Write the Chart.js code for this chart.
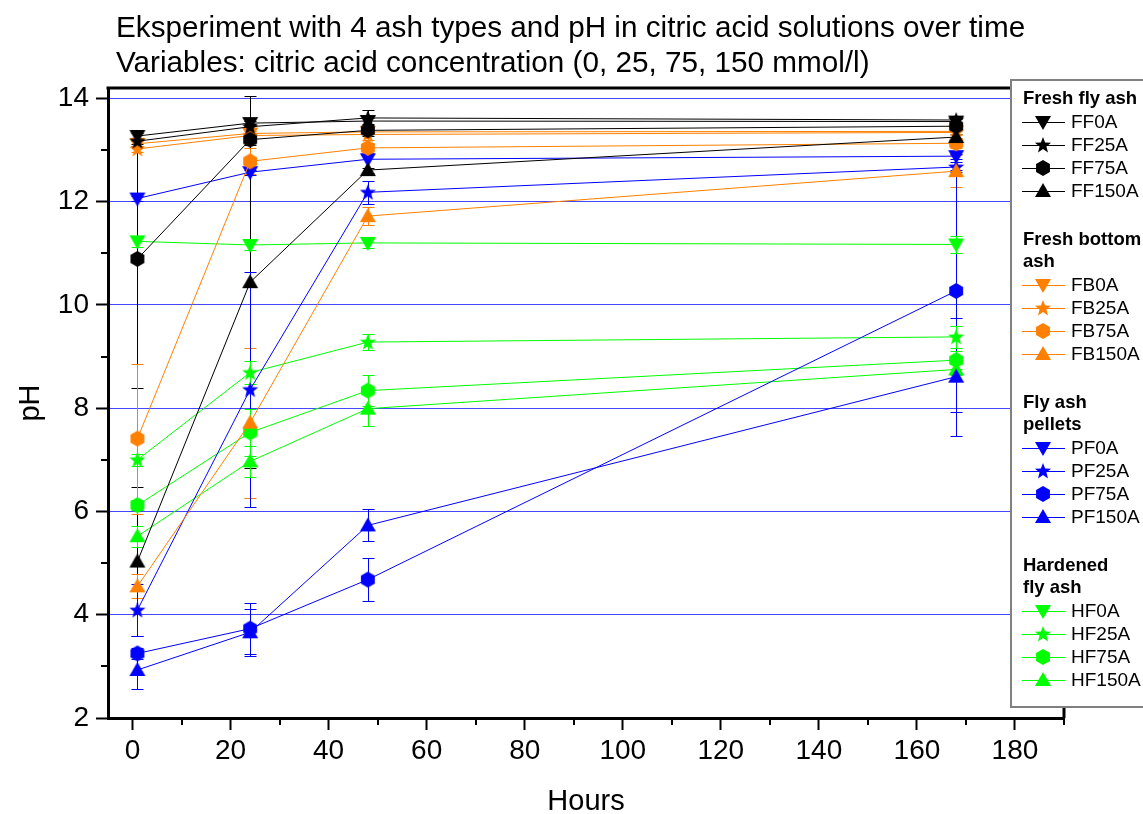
<!DOCTYPE html>
<html>
<head>
<meta charset="utf-8">
<script src="https://cdn.jsdelivr.net/npm/chart.js@4.4.1/dist/chart.umd.min.js"></script>
<style>
body { margin: 0; background: #fff; }
#wrap { width: 1143px; height: 814px; }
</style>
</head>
<body>
<div id="wrap"><canvas id="grafico" width="1143" height="814"></canvas></div>
<script>
// Eixos
const horas = [1, 24, 48, 168];
const xTicks = [0, 20, 40, 60, 80, 100, 120, 140, 160, 180];
const yTicks = [2, 4, 6, 8, 10, 12, 14];

// Fresh fly ash
const FF0A = [13.27, 13.52, 13.56, 13.55];
const FF25A = [13.17, 13.45, 13.62, 13.58];
const FF75A = [10.89, 13.2, 13.38, 13.46];
const FF150A = [5.03, 10.44, 12.61, 13.25];
// Fresh bottom ash
const FB0A = [13.12, 13.32, 13.35, 13.36];
const FB25A = [13.02, 13.28, 13.3, 13.34];
const FB75A = [7.41, 12.78, 13.04, 13.13];
const FB150A = [4.55, 7.72, 11.72, 12.59];
// Fly ash pellets
const PF0A = [12.06, 12.57, 12.82, 12.88];
const PF25A = [4.09, 8.36, 12.18, 12.67];
const PF75A = [3.25, 3.73, 4.68, 10.27];
const PF150A = [2.93, 3.66, 5.73, 8.61];
// Hardened fly ash
const HF0A = [11.23, 11.16, 11.2, 11.17];
const HF25A = [7.0, 8.69, 9.28, 9.38];
const HF75A = [6.12, 7.53, 8.34, 8.93];
const HF150A = [5.52, 6.97, 7.99, 8.75];

// Barras de erro (+/-)
const FF0A_err = [0.05, 0.05, 0.05, 0.05];
const FF25A_err = [0.05, 0.05, 0.15, 0.05];
const FF75A_err = [2.5, 0.1, 0.1, 0.05];
const FF150A_err = [1.45, 3.6, 0.05, 0.05];
const FB0A_err = [0.05, 0.05, 0.05, 0.05];
const FB25A_err = [0.05, 0.05, 0.1, 0.05];
const FB75A_err = [1.45, 0.25, 0.1, 0.1];
const FB150A_err = [0.23, 1.45, 0.18, 0.31];
const PF0A_err = [0.05, 0.05, 0.3, 0.05];
const PF25A_err = [0.5, 2.28, 0.22, 0.1];
const PF75A_err = [0.1, 0.5, 0.42, 2.35];
const PF150A_err = [0.36, 0.45, 0.31, 1.14];
const HF0A_err = [0.1, 0.1, 0.1, 0.16];
const HF25A_err = [0.12, 0.23, 0.15, 0.22];
const HF75A_err = [0.1, 0.45, 0.3, 0.17];
const HF150A_err = [0.2, 0.3, 0.33, 0.1];

const preto = '#000000';
const laranja = '#FF8000';
const azul = '#0000FF';
const verde = '#00FF00';

const grupos = [
    { titulo: ['Fresh fly ash'], cor: preto, series: [['FF0A', FF0A, FF0A_err, 'down'], ['FF25A', FF25A, FF25A_err, 'star'], ['FF75A', FF75A, FF75A_err, 'hex'], ['FF150A', FF150A, FF150A_err, 'up']] },
    { titulo: ['Fresh bottom', 'ash'], cor: laranja, series: [['FB0A', FB0A, FB0A_err, 'down'], ['FB25A', FB25A, FB25A_err, 'star'], ['FB75A', FB75A, FB75A_err, 'hex'], ['FB150A', FB150A, FB150A_err, 'up']] },
    { titulo: ['Fly ash', 'pellets'], cor: azul, series: [['PF0A', PF0A, PF0A_err, 'down'], ['PF25A', PF25A, PF25A_err, 'star'], ['PF75A', PF75A, PF75A_err, 'hex'], ['PF150A', PF150A, PF150A_err, 'up']] },
    { titulo: ['Hardened', 'fly ash'], cor: verde, series: [['HF0A', HF0A, HF0A_err, 'down'], ['HF25A', HF25A, HF25A_err, 'star'], ['HF75A', HF75A, HF75A_err, 'hex'], ['HF150A', HF150A, HF150A_err, 'up']] }
];

// Desenha um marcador num canvas pequeno para usar como pointStyle
function criarMarcador(forma, cor) {
    const s = 20, c = s / 2;
    const cv = document.createElement('canvas');
    cv.width = s; cv.height = s;
    const g = cv.getContext('2d');
    g.fillStyle = cor;
    g.beginPath();
    if (forma === 'down') {
        g.moveTo(c - 8, c - 6); g.lineTo(c + 8, c - 6); g.lineTo(c, c + 8);
    } else if (forma === 'up') {
        g.moveTo(c - 8, c + 6); g.lineTo(c + 8, c + 6); g.lineTo(c, c - 8);
    } else if (forma === 'hex') {
        for (let i = 0; i < 6; i++) {
            const a = Math.PI / 2 + i * Math.PI / 3;
            g.lineTo(c + 8 * Math.cos(a), c - 8 * Math.sin(a));
        }
    } else {
        for (let i = 0; i < 10; i++) {
            const r = i % 2 === 0 ? 8.5 : 3.6;
            const a = Math.PI / 2 + i * Math.PI / 5;
            g.lineTo(c + r * Math.cos(a), c + 0.5 - r * Math.sin(a));
        }
    }
    g.closePath();
    g.fill();
    return cv;
}

const datasets = [];
grupos.forEach(gr => {
    gr.series.forEach(sr => {
        sr.push(criarMarcador(sr[3], gr.cor));
        datasets.push({
            label: sr[0],
            data: horas.map((h, i) => ({ x: h, y: sr[1][i] })),
            erros: sr[2],
            borderColor: gr.cor,
            backgroundColor: gr.cor,
            borderWidth: 1,
            showLine: true,
            pointStyle: sr[4],
            pointRadius: 8
        });
    });
});

// Barras de erro
const barrasErro = {
    id: 'barrasErro',
    beforeDatasetsDraw(chart) {
        const { ctx, scales: { x, y } } = chart;
        ctx.save();
        ctx.lineWidth = 1;
        chart.data.datasets.forEach(ds => {
            ctx.strokeStyle = ds.borderColor;
            ds.data.forEach((p, i) => {
                const e = ds.erros[i];
                const px = Math.round(x.getPixelForValue(p.x)) + 0.5;
                const yt = Math.round(y.getPixelForValue(p.y + e)) + 0.5;
                const yb = Math.round(y.getPixelForValue(p.y - e)) + 0.5;
                ctx.beginPath();
                ctx.moveTo(px, yt); ctx.lineTo(px, yb);
                ctx.moveTo(px - 6, yt); ctx.lineTo(px + 6, yt);
                ctx.moveTo(px - 6, yb); ctx.lineTo(px + 6, yb);
                ctx.stroke();
            });
        });
        ctx.restore();
    }
};

// Moldura, ticks menores, títulos e legenda
const extras = {
    id: 'extras',
    afterDraw(chart) {
        const { ctx, chartArea: a, scales: { x, y } } = chart;
        ctx.save();
        ctx.strokeStyle = '#000';
        ctx.lineWidth = 3;
        ctx.beginPath();
        ctx.moveTo(a.left - 1.5, a.top); ctx.lineTo(a.right, a.top); ctx.lineTo(a.right, a.bottom);
        ctx.stroke();

        // ticks menores
        ctx.lineWidth = 2;
        ctx.beginPath();
        for (let v = 10; v <= 170; v += 20) {
            const px = Math.round(x.getPixelForValue(v));
            ctx.moveTo(px, a.bottom); ctx.lineTo(px, a.bottom + 7);
        }
        for (let v = 3; v <= 13; v += 2) {
            const py = Math.round(y.getPixelForValue(v));
            ctx.moveTo(a.left, py); ctx.lineTo(a.left - 7, py);
        }
        ctx.moveTo(a.right, a.bottom - 6); ctx.lineTo(a.right, a.bottom + 7);
        ctx.stroke();

        // títulos
        ctx.fillStyle = '#000';
        ctx.textBaseline = 'alphabetic';
        ctx.textAlign = 'left';
        ctx.font = '29.7px "Liberation Sans", Arial, sans-serif';
        ctx.fillText('Eksperiment with 4 ash types and pH in citric acid solutions over time', 116, 37);
        ctx.fillText('Variables: citric acid concentration (0, 25, 75, 150 mmol/l)', 116, 72);

        ctx.font = '29px "Liberation Sans", Arial, sans-serif';
        ctx.textAlign = 'center';
        ctx.fillText('Hours', (a.left + a.right) / 2, 810);
        ctx.save();
        ctx.translate(39, (a.top + a.bottom) / 2);
        ctx.rotate(-Math.PI / 2);
        ctx.fillText('pH', 0, 0);
        ctx.restore();

        // legenda
        ctx.fillStyle = '#fff';
        ctx.fillRect(1011, 80, 140, 627);
        ctx.strokeStyle = '#808080';
        ctx.lineWidth = 2;
        ctx.strokeRect(1011, 80, 140, 627);

        ctx.textAlign = 'left';
        let yCur = 104;
        grupos.forEach((gr, gi) => {
            ctx.fillStyle = '#000';
            ctx.font = 'bold 18.5px "Liberation Sans", Arial, sans-serif';
            gr.titulo.forEach((t, ti) => {
                if (ti > 0) yCur += 22;
                ctx.fillText(t, 1023, yCur);
            });
            yCur += 18;
            gr.series.forEach((sr, si) => {
                if (si > 0) yCur += 23;
                ctx.strokeStyle = gr.cor;
                ctx.lineWidth = 1;
                ctx.beginPath();
                ctx.moveTo(1022, yCur + 0.5); ctx.lineTo(1065, yCur + 0.5);
                ctx.stroke();
                ctx.drawImage(sr[4], 1043 - 10, yCur - 10);
                ctx.fillStyle = '#000';
                ctx.font = '19px "Liberation Sans", Arial, sans-serif';
                ctx.textBaseline = 'middle';
                ctx.fillText(sr[0], 1071, yCur + 1);
                ctx.textBaseline = 'alphabetic';
            });
            yCur += 54;
        });
        ctx.restore();
    }
};

Chart.defaults.font.family = '"Liberation Sans", Arial, sans-serif';
Chart.defaults.color = '#000';

const grafico = new Chart(document.getElementById('grafico'), {
    type: 'scatter',
    data: { datasets },
    options: {
        responsive: false,
        animation: false,
        layout: { padding: { top: 88, right: 79, left: 0, bottom: 0 } },
        plugins: {
            legend: { display: false },
            title: { display: false },
            tooltip: { enabled: false }
        },
        scales: {
            x: {
                type: 'linear',
                min: -5,
                max: 190,
                afterBuildTicks: axis => { axis.ticks = xTicks.map(v => ({ value: v })); },
                afterFit: axis => { axis.height = 96; },
                grid: { drawOnChartArea: false, tickLength: 12, tickColor: '#000', tickWidth: 2 },
                border: { color: '#000', width: 3 },
                ticks: { color: '#000', font: { size: 28 }, padding: 4, maxRotation: 0, autoSkip: false }
            },
            y: {
                min: 2,
                max: 14.2,
                afterBuildTicks: axis => { axis.ticks = yTicks.map(v => ({ value: v })); },
                afterFit: axis => { axis.width = 108; },
                grid: {
                    color: c => (c.tick && c.tick.value === 2) ? 'rgba(0,0,0,0)' : 'rgb(70,70,255)',
                    lineWidth: 1,
                    tickColor: '#000',
                    tickLength: 12,
                    tickWidth: 2
                },
                border: { color: '#000', width: 3 },
                ticks: { color: '#000', font: { size: 28 }, padding: 7, autoSkip: false }
            }
        }
    },
    plugins: [barrasErro, extras]
});
</script>
</body>
</html>
